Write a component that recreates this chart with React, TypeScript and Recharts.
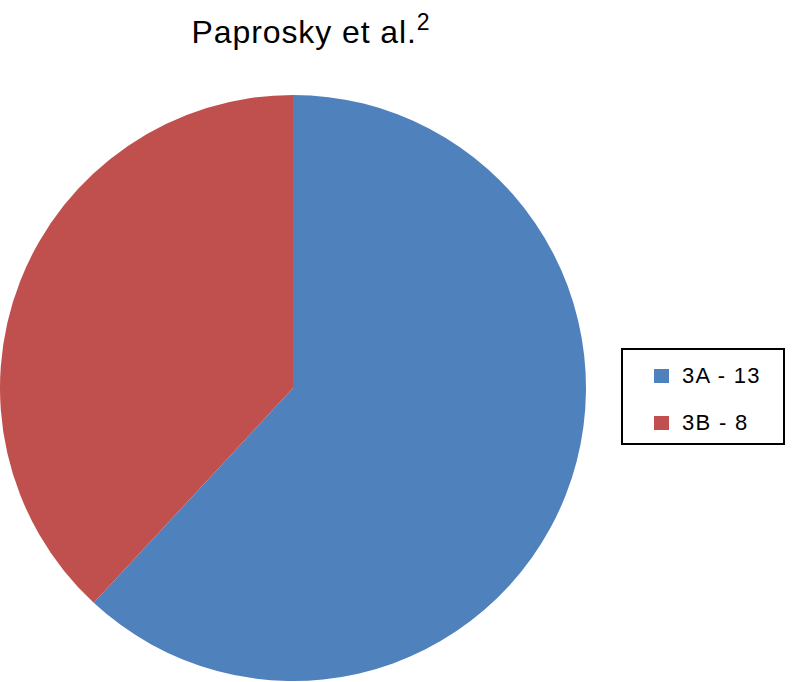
import { PieChart, Pie, Cell, Legend } from 'recharts';

const categories = ['3A', '3B'];
const counts = [13, 8];
const colors = ['#4F81BD', '#C0504D'];

const data = categories.map((name, i) => ({ name, value: counts[i], label: `${name} - ${counts[i]}` }));

const FONT = '"Liberation Sans", Arial, Helvetica, sans-serif';

const LegendBox = () => (
  <div
    style={{
      border: '2px solid #000',
      width: 164,
      height: 97,
      boxSizing: 'border-box',
      background: '#fff',
      fontFamily: FONT,
      fontSize: 22,
      letterSpacing: 1.3,
      color: '#000',
      paddingTop: 14,
    }}
  >
    {data.map((d, i) => (
      <div key={d.name} style={{ display: 'flex', alignItems: 'center', height: 24, marginBottom: i === 0 ? 23 : 0 }}>
        <span style={{ display: 'inline-block', width: 15, height: 14, background: colors[i], marginLeft: 31, marginRight: 13 }} />
        <span>{d.label}</span>
      </div>
    ))}
  </div>
);

export default function App() {
  return (
    <div style={{ position: 'absolute', left: 0, top: 0, width: 792, height: 682, background: '#fff' }}>
      <div
        style={{
          position: 'absolute',
          left: 0,
          width: 622,
          top: 10,
          textAlign: 'center',
          fontFamily: FONT,
          fontSize: 32,
          letterSpacing: 0.9,
          color: '#000',
        }}
      >
        Paprosky et al.<sup style={{ fontSize: 23, position: 'relative', top: -1 }}>2</sup>
      </div>
      <PieChart
        width={792}
        height={682}
        margin={{ top: 0, right: 0, bottom: 0, left: 0 }}
        style={{ position: 'absolute', left: 0, top: 0 }}
      >
        <Pie
          data={data}
          dataKey="value"
          nameKey="name"
          cx={293}
          cy={388}
          outerRadius={293}
          startAngle={90}
          endAngle={-270}
          stroke="none"
          isAnimationActive={false}
        >
          {data.map((d, i) => (
            <Cell key={d.name} fill={colors[i]} />
          ))}
        </Pie>
        <Legend
          content={<LegendBox />}
          wrapperStyle={{ position: 'absolute', left: 621, top: 348, width: 164, height: 97 }}
        />
      </PieChart>
    </div>
  );
}
